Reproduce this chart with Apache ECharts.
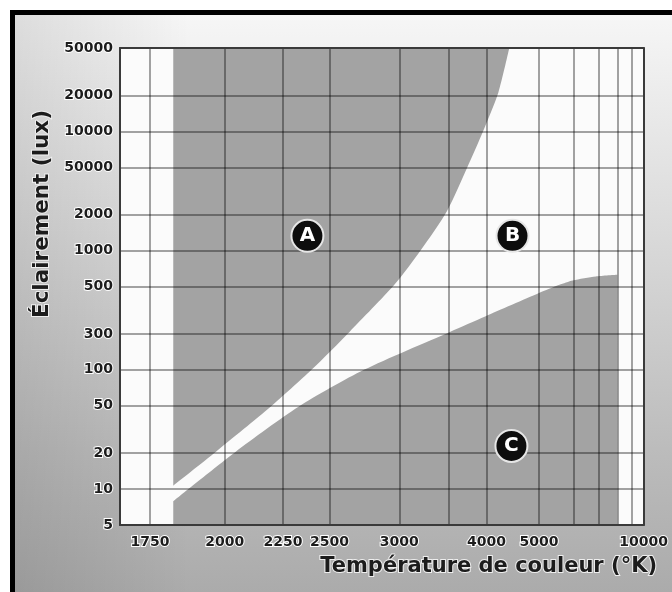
<!DOCTYPE html>
<html>
<head>
<meta charset="utf-8">
<script src="https://cdn.jsdelivr.net/npm/echarts@6/dist/echarts.min.js"></script>
<style>
html, body { margin: 0; padding: 0; background: #fff; overflow: hidden; width: 672px; height: 592px; }
.frame {
	position: absolute; left: 10px; top: 10px; width: 700px; height: 620px;
	border-left: 5px solid #000; border-top: 5px solid #000;
	background:
		linear-gradient(to right, rgba(0,0,0,0.10), rgba(0,0,0,0) 25%),
		linear-gradient(to bottom, #f6f6f6 0%, #dadada 35%, #bcbcbc 70%, #a6a6a6 100%);
}
#chart { position: absolute; left: 0; top: 0; width: 672px; height: 592px; }
</style>
</head>
<body>
<div class="frame"></div>
<div id="chart"></div>
<script>
// couleur (K) -> échelle en mired, éclairement -> log10
const xTickTemps = [1750, 2000, 2250, 2500, 3000, 3500, 4000, 5000, 6000, 7000, 8000, 9000, 10000]
const xLabelTemps = [1750, 2000, 2250, 2500, 3000, 4000, 5000, 10000]
const yTickLux = [5, 10, 20, 50, 100, 200, 500, 1000, 2000, 5000, 10000, 20000, 50000]
const yTickLabels = ["5", "10", "20", "50", "100", "300", "500", "1000", "2000", "50000", "10000", "20000", "50000"]

// limite de la zone A (au-dessus)
const zoneATemp = [1821, 1967, 2192, 2397, 2627, 2958, 3198, 3477, 3722, 3954, 4189, 4380]
const zoneALux = [10.7, 20.6, 49, 100, 209, 516, 1010, 2160, 4920, 10200, 21200, 50000]
// limite de la zone C (en dessous)
const zoneCTemp = [1821, 2043, 2328, 2724, 3515, 3978, 5002, 5543, 5962, 6864, 7990]
const zoneCLux = [7.9, 20.6, 49, 100, 209, 280, 440, 516, 561, 606, 626]

const zoneNames = ["A", "B", "C"]
const zoneLabelTemp = [2375, 4440, 4420]
const zoneLabelLux = [1330, 1330, 23]

const toMired = t => 1e6 / t
const toLog = v => Math.log10(v)
const pts = (temps, lux) => temps.map((t, i) => [toMired(t), toLog(lux[i])])

const font = "DejaVu Sans"
const fill = "#a3a3a3"
const gridColor = "rgba(0,0,0,0.48)"
const borderColor = "#3a3a3a"

const labelStyle = {
	color: "#1c1c1c",
	fontFamily: font,
	fontWeight: "bold",
	fontSize: 14,
	textBorderColor: "#fff",
	textBorderWidth: 2
}

const chart = echarts.init(document.getElementById("chart"))

const option = {
	animation: false,
	backgroundColor: "transparent",
	grid: {
		left: 120,
		right: 24,
		top: 48,
		bottom: 67,
		show: true,
		backgroundColor: "#fbfbfb",
		borderWidth: 0
	},
	xAxis: [
		{
			type: "value",
			min: 100,
			max: 600,
			inverse: true,
			z: 3,
			axisLine: { show: true, onZero: false, lineStyle: { color: borderColor, width: 2 } },
			axisTick: { show: false, customValues: xTickTemps.map(toMired) },
			axisLabel: {
				...labelStyle,
				margin: 10,
				customValues: xLabelTemps.map(toMired),
				formatter: v => {
					const t = xLabelTemps.find(t => Math.abs(toMired(t) - v) < 1e-6)
					return t ? String(t) : ""
				}
			},
			splitLine: { show: true, lineStyle: { color: gridColor, width: 1.5 } }
		},
		{
			type: "value",
			position: "top",
			min: 100,
			max: 600,
			inverse: true,
			z: 3,
			axisLine: { show: true, onZero: false, lineStyle: { color: borderColor, width: 2 } },
			axisTick: { show: false },
			axisLabel: { show: false },
			splitLine: { show: false }
		}
	],
	yAxis: [
		{
			type: "value",
			min: toLog(5),
			max: toLog(50000),
			z: 3,
			axisLine: { show: true, onZero: false, lineStyle: { color: borderColor, width: 2 } },
			axisTick: { show: false, customValues: yTickLux.map(toLog) },
			axisLabel: {
				...labelStyle,
				margin: 7,
				customValues: yTickLux.map(toLog),
				formatter: v => {
					const i = yTickLux.findIndex(l => Math.abs(toLog(l) - v) < 1e-6)
					return i >= 0 ? yTickLabels[i] : ""
				}
			},
			splitLine: { show: true, lineStyle: { color: gridColor, width: 1.5 } }
		},
		{
			type: "value",
			position: "right",
			min: toLog(5),
			max: toLog(50000),
			z: 3,
			axisLine: { show: true, onZero: false, lineStyle: { color: borderColor, width: 2 } },
			axisTick: { show: false },
			axisLabel: { show: false },
			splitLine: { show: false }
		}
	],
	graphic: [
		{
			type: "text",
			x: 657,
			y: 567,
			style: {
				text: "Température de couleur (°K)",
				font: "bold 21px '" + font + "'",
				fill: "#1c1c1c",
				stroke: "#eee",
				lineWidth: 2,
				textAlign: "right",
				textVerticalAlign: "middle"
			}
		},
		{
			type: "text",
			x: 42,
			y: 214,
			rotation: Math.PI / 2,
			style: {
				text: "Éclairement (lux)",
				font: "bold 21.5px '" + font + "'",
				fill: "#1c1c1c",
				stroke: "#eee",
				lineWidth: 2,
				textAlign: "center",
				textVerticalAlign: "middle"
			}
		}
	],
	series: [
		{
			name: "A",
			type: "line",
			z: 2,
			smooth: 0.25,
			showSymbol: false,
			lineStyle: { width: 0 },
			areaStyle: { color: fill, opacity: 1, origin: "end" },
			data: pts(zoneATemp, zoneALux)
		},
		{
			name: "C",
			type: "line",
			z: 2,
			smooth: 0.25,
			showSymbol: false,
			lineStyle: { width: 0 },
			areaStyle: { color: fill, opacity: 1, origin: "start" },
			data: pts(zoneCTemp, zoneCLux)
		},
		{
			name: "zones",
			type: "scatter",
			z: 5,
			symbolSize: 32,
			itemStyle: { color: "#0d0d0d", opacity: 1, borderColor: "#e6e6e6", borderWidth: 2 },
			label: {
				show: true,
				position: "inside",
				formatter: p => p.data[2],
				color: "#fff",
				fontFamily: font,
				fontWeight: "bold",
				fontSize: 20
			},
			data: zoneNames.map((n, i) => [toMired(zoneLabelTemp[i]), toLog(zoneLabelLux[i]), n])
		}
	]
}

chart.setOption(option)
</script>
</body>
</html>
